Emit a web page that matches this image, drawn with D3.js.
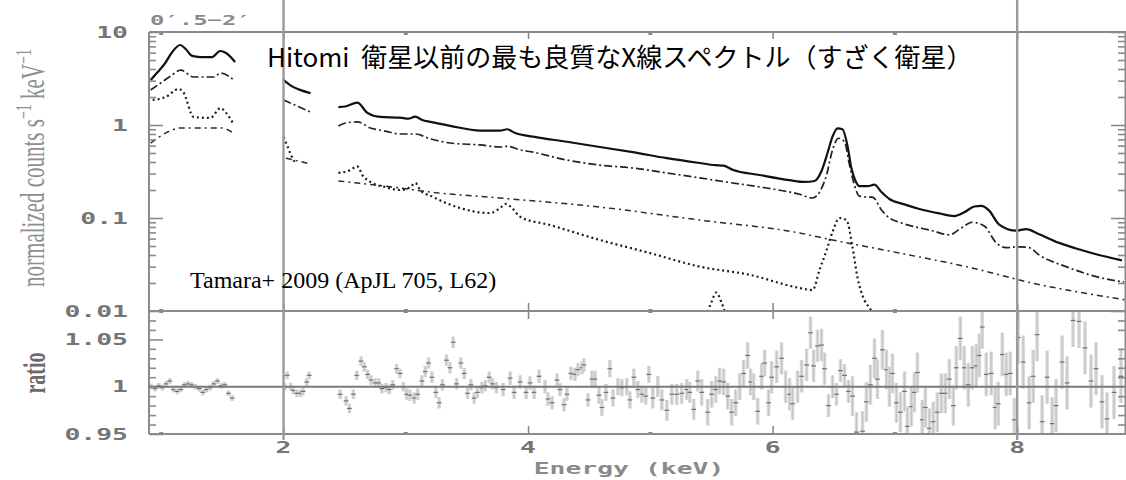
<!DOCTYPE html>
<html>
<head>
<meta charset="utf-8">
<script src="https://cdn.jsdelivr.net/npm/d3@7"></script>
<style>
  html, body { margin: 0; padding: 0; background: #fff; }
  svg { display: block; }
</style>
</head>
<body>
<svg id="chart" width="1126" height="480"></svg>
<script>
// ---- axis ticks and labels ----
const countTickValues = [10, 1, 0.1, 0.01];
const countTickLabels = ["10", "1", "0.1", "0.01"];
const ratioTickValues = [1.05, 1, 0.95];
const ratioTickLabels = ["1.05", "1", "0.95"];
const energyTickValues = [2, 4, 6, 8];
const energyTickLabels = ["2", "4", "6", "8"];
const energyMinorTicks = [1, 3, 5, 7];
const guideEnergies = [2, 8];

// ---- spectral model curves, [energy keV, counts s^-1 keV^-1], split where bands are excluded ----
const modelTotal = [
  [[0.914,3.05],[0.971,3.71],[1.033,4.64],[1.09,6.1],[1.155,7.25],[1.2,6.56],[1.253,5.53],[1.318,5.38],[1.416,5.38],[1.481,6.25],[1.53,5.95],[1.604,4.76]],
  [[2.0,3.05],[2.06,2.65],[2.13,2.4],[2.22,2.2]],
  [[2.449,1.56],[2.506,1.58],[2.604,1.74],[2.686,1.35],[2.792,1.22],[2.955,1.2],[3.02,1.17],[3.078,1.23],[3.135,1.13],[3.2,1.08],[3.363,0.98],[3.608,0.87],[3.771,0.87],[3.829,0.9],[3.894,0.82],[4.041,0.75],[4.318,0.66],[4.588,0.58],[4.857,0.51],[5.135,0.44],[5.404,0.39],[5.53,0.37],[5.6,0.365],[5.673,0.33],[5.894,0.29],[6.139,0.255],[6.261,0.244],[6.343,0.25],[6.4,0.32],[6.449,0.5],[6.49,0.75],[6.531,0.92],[6.571,0.9],[6.612,0.6],[6.645,0.34],[6.678,0.25],[6.71,0.22],[6.776,0.22],[6.833,0.228],[6.89,0.19],[6.955,0.16],[7.078,0.14],[7.2,0.125],[7.363,0.112],[7.486,0.105],[7.567,0.115],[7.649,0.133],[7.706,0.135],[7.771,0.12],[7.853,0.085],[7.992,0.073],[8.073,0.076],[8.18,0.067],[8.343,0.054],[8.531,0.045],[8.669,0.04],[8.857,0.035]]
];
const modelHot = [
  [[0.914,2.38],[0.996,2.83],[1.078,3.36],[1.159,3.9],[1.265,3.28],[1.428,3.28],[1.486,3.62],[1.592,3.05]],
  [[2.0,1.86],[2.11,1.6],[2.22,1.38]],
  [[2.449,0.975],[2.506,1.05],[2.604,1.08],[2.71,0.93],[2.833,0.86],[2.955,0.8],[3.078,0.8],[3.2,0.71],[3.363,0.64],[3.608,0.61],[3.771,0.58],[3.829,0.59],[3.935,0.54],[4.041,0.51],[4.318,0.42],[4.588,0.37],[4.857,0.345],[5.135,0.305],[5.404,0.27],[5.673,0.238],[5.951,0.21],[6.22,0.18],[6.327,0.164],[6.384,0.19],[6.441,0.29],[6.49,0.54],[6.539,0.72],[6.588,0.66],[6.629,0.37],[6.669,0.226],[6.71,0.172],[6.776,0.168],[6.816,0.168],[6.89,0.122],[6.955,0.1],[7.037,0.09],[7.306,0.073],[7.445,0.066],[7.543,0.078],[7.633,0.09],[7.731,0.082],[7.829,0.054],[7.91,0.048],[8.016,0.049],[8.098,0.048],[8.18,0.04],[8.4,0.03],[8.669,0.023],[8.873,0.0205]]
];
const modelCool = [
  [[0.93,1.86],[1.037,2.0],[1.143,2.44],[1.18,2.26],[1.265,1.22],[1.4,1.19],[1.486,1.52],[1.53,1.35],[1.592,1.02]],
  [[2.0,0.74],[2.03,0.6],[2.06,0.48],[2.09,0.4]],
  [[2.449,0.305],[2.547,0.328],[2.604,0.36],[2.645,0.29],[2.71,0.244],[2.833,0.215],[2.955,0.2],[3.037,0.215],[3.078,0.238],[3.118,0.2],[3.224,0.168],[3.444,0.128],[3.69,0.113],[3.771,0.128],[3.82,0.142],[3.869,0.128],[3.935,0.103],[4.18,0.084],[4.588,0.058],[4.996,0.042],[5.404,0.03],[5.812,0.0245],[6.22,0.0177],[6.327,0.0168],[6.384,0.0277],[6.441,0.045],[6.49,0.071],[6.547,0.1],[6.604,0.095],[6.653,0.049],[6.694,0.023],[6.751,0.0131],[6.792,0.0108],[6.84,0.0088]]
];
const modelContinuum = [
  [[0.914,0.64],[1.053,0.84],[1.159,0.93],[1.322,0.93],[1.486,0.93],[1.592,0.82]],
  [[2.02,0.44],[2.12,0.41],[2.22,0.38]],
  [[2.449,0.25],[2.955,0.21],[3.2,0.19],[3.771,0.164],[4.588,0.131],[5.404,0.095],[6.22,0.069],[6.49,0.058],[7.037,0.042],[7.584,0.03],[8.122,0.02],[8.882,0.0132]]
];
const lineCr = [[5.47,0.0098],[5.5,0.0125],[5.54,0.0158],[5.58,0.0125],[5.61,0.0098]];

// ---- data / model ratio: [energy keV, ratio, 1-sigma error] ----
const ratioPoints = [
  [0.92,1.000,0.003],[0.95,0.998,0.003],[0.98,1.001,0.003],[1.01,0.999,0.003],[1.04,1.003,0.003],[1.07,1.006,0.003],
  [1.10,0.997,0.003],[1.13,0.995,0.003],[1.16,0.997,0.003],[1.19,1.002,0.003],[1.22,1.003,0.003],[1.25,1.002,0.003],
  [1.28,1.000,0.003],[1.31,0.998,0.003],[1.34,0.994,0.003],[1.37,0.997,0.003],[1.40,0.999,0.003],[1.43,1.003,0.003],
  [1.46,1.006,0.003],[1.49,1.001,0.003],[1.52,1.002,0.003],[1.55,0.993,0.003],[1.58,0.988,0.003],
  [2.01,1.000,0.004],[2.03,1.012,0.004],[2.06,1.000,0.004],[2.08,0.996,0.004],[2.11,0.993,0.004],[2.14,0.993,0.004],
  [2.16,0.995,0.004],[2.19,1.005,0.004],[2.21,1.012,0.004],
  [2.463,0.992,0.005],[2.512,0.985,0.005],[2.539,0.977,0.005],[2.571,0.992,0.005],[2.599,1.012,0.005],[2.634,1.027,0.005],
  [2.661,1.021,0.005],[2.688,1.013,0.005],[2.716,1.007,0.005],[2.751,1.004,0.005],[2.778,1.004,0.005],[2.805,0.998,0.005],
  [2.838,0.999,0.005],[2.865,0.997,0.005],[2.893,1.002,0.005],[2.925,1.019,0.005],[2.953,1.014,0.005],[2.980,1.000,0.005],
  [3.007,0.992,0.006],[3.034,0.991,0.006],[3.069,0.988,0.006],[3.097,0.992,0.006],[3.132,1.006,0.006],[3.159,1.016,0.006],
  [3.186,1.025,0.006],[3.214,1.010,0.006],[3.246,0.994,0.006],[3.273,0.983,0.006],[3.300,1.002,0.006],[3.333,1.028,0.006],
  [3.361,1.020,0.006],[3.388,1.047,0.006],[3.415,1.003,0.006],[3.450,1.025,0.006],[3.478,1.014,0.006],[3.505,0.993,0.006],
  [3.532,1.002,0.006],[3.559,0.988,0.006],[3.586,0.994,0.006],[3.622,0.999,0.006],[3.649,1.001,0.006],[3.682,1.010,0.006],
  [3.709,1.003,0.006],[3.741,0.999,0.006],
  [3.796,0.997,0.007],[3.853,1.009,0.007],[3.886,0.994,0.007],[3.935,1.005,0.007],[3.984,0.994,0.007],[4.016,1.004,0.007],
  [4.049,0.994,0.007],[4.090,1.011,0.007],[4.139,1.000,0.007],[4.163,0.987,0.007],[4.196,0.983,0.007],[4.237,1.007,0.007],
  [4.261,0.997,0.007],[4.294,0.981,0.007],[4.318,0.992,0.007],[4.351,1.014,0.007],[4.384,1.013,0.007],[4.408,1.018,0.007],
  [4.441,1.020,0.007],[4.457,1.023,0.007],[4.490,0.986,0.007],
  [4.522,1.008,0.009],[4.547,1.008,0.009],[4.580,0.991,0.009],[4.604,0.978,0.009],[4.637,0.994,0.009],[4.669,1.019,0.009],
  [4.694,0.988,0.009],[4.735,1.000,0.009],[4.767,0.999,0.009],[4.808,1.000,0.009],[4.833,0.986,0.009],[4.865,1.010,0.009],
  [4.898,0.997,0.009],[4.931,0.992,0.009],[4.963,0.990,0.009],[4.988,1.013,0.009],
  [5.020,0.988,0.011],[5.061,1.000,0.011],[5.094,0.986,0.011],[5.135,0.975,0.011],[5.176,0.992,0.011],[5.216,0.992,0.011],
  [5.257,0.993,0.011],[5.298,0.997,0.011],[5.322,0.994,0.011],[5.355,0.976,0.011],[5.388,1.006,0.011],
  [5.420,0.994,0.014],[5.469,0.973,0.014],[5.502,0.992,0.014],[5.535,0.997,0.014],[5.567,1.006,0.014],[5.600,1.005,0.014],
  [5.633,0.990,0.014],[5.665,0.973,0.014],[5.698,0.983,0.014],[5.731,1.000,0.014],[5.763,1.014,0.014],[5.796,1.033,0.014],
  [5.820,1.005,0.014],[5.845,1.000,0.014],[5.878,0.974,0.014],[5.910,1.011,0.014],[5.935,1.025,0.014],[5.967,0.983,0.014],
  [5.992,1.010,0.017],[6.033,1.021,0.017],[6.073,1.030,0.017],[6.106,1.000,0.017],[6.139,0.992,0.017],[6.163,0.982,0.017],
  [6.204,1.000,0.017],[6.237,1.011,0.017],[6.278,1.023,0.017],[6.310,1.057,0.017],[6.335,1.022,0.017],[6.367,1.043,0.017],
  [6.400,1.044,0.017],[6.424,1.019,0.017],
  [6.457,0.980,0.012],[6.490,1.000,0.012],[6.522,0.992,0.012],[6.555,1.017,0.012],[6.588,1.012,0.012],[6.620,0.995,0.012],
  [6.653,0.990,0.021],[6.686,0.952,0.021],[6.735,0.953,0.021],[6.767,0.984,0.021],[6.800,1.002,0.021],[6.833,1.030,0.021],
  [6.857,1.008,0.021],[6.898,1.039,0.021],[6.931,1.018,0.021],[6.955,1.000,0.021],[6.980,1.014,0.021],[7.012,0.983,0.021],
  [7.045,0.973,0.021],[7.078,0.995,0.021],[7.102,0.958,0.021],[7.135,0.979,0.021],[7.159,0.994,0.021],[7.184,1.015,0.021],
  [7.224,0.965,0.021],[7.249,0.978,0.021],[7.282,0.956,0.021],[7.314,0.963,0.021],[7.347,0.973,0.021],[7.380,0.993,0.021],
  [7.412,0.993,0.021],[7.445,1.008,0.021],[7.478,0.980,0.021],
  [7.502,1.020,0.023],[7.535,1.051,0.023],[7.567,1.020,0.023],[7.600,1.002,0.023],[7.633,1.020,0.023],[7.665,1.022,0.023],
  [7.690,1.033,0.023],[7.714,1.063,0.023],[7.747,1.013,0.023],[7.788,1.014,0.023],[7.820,0.978,0.023],[7.845,0.982,0.023],
  [7.878,1.034,0.023],[7.910,1.013,0.023],[7.943,1.014,0.023],[7.976,0.965,0.023],
  [8.008,1.052,0.028],[8.049,1.026,0.028],[8.098,0.983,0.028],[8.131,1.011,0.028],[8.163,1.055,0.028],[8.204,0.963,0.028],
  [8.245,1.010,0.028],[8.286,0.961,0.028],[8.318,0.980,0.028],[8.367,1.026,0.028],[8.408,1.004,0.028],[8.457,1.070,0.028],
  [8.506,1.069,0.028],[8.555,1.041,0.028],[8.604,1.006,0.028],[8.645,1.019,0.028],[8.694,0.984,0.028],[8.735,0.966,0.028],
  [8.792,0.994,0.028],[8.849,1.011,0.028]
];

// ---- layout ----
const frameLeft = 149, frameRight = 1126;
const countTop = 32, countBottom = 311, ratioBottom = 434;
const frameColor = "#8a8a8a";
const labelColor = "#757575";
const stretch = 1.65; // horizontally widened labels of the spectrum plot

const svg = d3.select("#chart");

const x = d3.scaleLinear().domain([0.9, 8.89]).range([frameLeft, frameRight]);
const yCount = d3.scaleLog().domain([0.01, 10]).range([countBottom, countTop]);
const yRatio = d3.scaleLinear().domain([0.95, 1.08]).range([ratioBottom, countBottom]);

const defs = svg.append("defs");
defs.append("clipPath").attr("id", "clip-count")
  .append("rect").attr("x", frameLeft).attr("y", countTop)
  .attr("width", frameRight - frameLeft).attr("height", countBottom - countTop);
defs.append("clipPath").attr("id", "clip-ratio")
  .append("rect").attr("x", frameLeft).attr("y", countBottom)
  .attr("width", frameRight - frameLeft).attr("height", ratioBottom - countBottom);

// ---- upper panel: model curves ----
const curveLine = d3.line()
  .x(d => x(d[0]))
  .y(d => yCount(d[1]))
  .curve(d3.curveMonotoneX);

const countLayer = svg.append("g").attr("clip-path", "url(#clip-count)");

function drawModel(segments, style) {
  countLayer.append("g")
    .selectAll("path")
    .data(segments)
    .join("path")
    .attr("d", curveLine)
    .attr("fill", "none")
    .attr("stroke", style.color)
    .attr("stroke-width", style.width)
    .attr("stroke-dasharray", style.dash)
    .attr("stroke-linejoin", "round");
}
drawModel(modelContinuum, { color: "#2a2a2a", width: 1.5, dash: "6,4,2,4" });
drawModel(modelCool,      { color: "#1e1e1e", width: 2.2, dash: "2,3" });
drawModel([lineCr],       { color: "#1e1e1e", width: 2.2, dash: "2,3" });
drawModel(modelHot,       { color: "#222",    width: 1.7, dash: "8,3,2,3" });
drawModel(modelTotal,     { color: "#111",    width: 2.2, dash: null });

// ---- lower panel: ratio points with error bars ----
const ratioLayer = svg.append("g").attr("clip-path", "url(#clip-ratio)");
const pts = ratioLayer.selectAll("g.pt").data(ratioPoints).join("g").attr("class", "pt");
pts.append("line")
  .attr("x1", d => x(d[0])).attr("x2", d => x(d[0]))
  .attr("y1", d => yRatio(d[1] - d[2])).attr("y2", d => yRatio(d[1] + d[2]))
  .attr("stroke", "#d9d9d9").attr("stroke-width", 3.6);
pts.append("line")
  .attr("x1", d => x(d[0])).attr("x2", d => x(d[0]))
  .attr("y1", d => yRatio(d[1] - d[2])).attr("y2", d => yRatio(d[1] + d[2]))
  .attr("stroke", "#bcbcbc").attr("stroke-width", 0.8);
pts.append("line")
  .attr("x1", d => x(d[0]) - 2.4).attr("x2", d => x(d[0]) + 2.4)
  .attr("y1", d => yRatio(d[1])).attr("y2", d => yRatio(d[1]))
  .attr("stroke", "#707070").attr("stroke-width", 1.2);

// ---- axes: ticks ----
function styleAxis(g) {
  g.select(".domain").remove();
  g.selectAll(".tick line").attr("stroke", frameColor).attr("stroke-width", 1.6);
}
const countMinor = [];
[0.01, 0.1, 1].forEach(dec => { for (let m = 2; m <= 9; m++) countMinor.push(m * dec); });
const ratioMinor = d3.range(0.96, 1.075, 0.01).filter(v => Math.abs(v - 1) > 1e-6 && Math.abs(v - 1.05) > 1e-6);

svg.append("g").attr("transform", `translate(${frameLeft},0)`)
  .call(d3.axisRight(yCount).tickValues(countTickValues).tickSize(14).tickFormat("")).call(styleAxis);
svg.append("g").attr("transform", `translate(${frameLeft},0)`)
  .call(d3.axisRight(yCount).tickValues(countMinor).tickSize(7).tickFormat("")).call(styleAxis);
svg.append("g").attr("transform", `translate(${frameRight - 1},0)`)
  .call(d3.axisLeft(yCount).tickValues(countTickValues).tickSize(14).tickFormat("")).call(styleAxis);
svg.append("g").attr("transform", `translate(${frameRight - 1},0)`)
  .call(d3.axisLeft(yCount).tickValues(countMinor).tickSize(7).tickFormat("")).call(styleAxis);

svg.append("g").attr("transform", `translate(${frameLeft},0)`)
  .call(d3.axisRight(yRatio).tickValues([1.05, 0.95]).tickSize(14).tickFormat("")).call(styleAxis);
svg.append("g").attr("transform", `translate(${frameLeft},0)`)
  .call(d3.axisRight(yRatio).tickValues(ratioMinor).tickSize(7).tickFormat("")).call(styleAxis);
svg.append("g").attr("transform", `translate(${frameRight - 1},0)`)
  .call(d3.axisLeft(yRatio).tickValues(ratioMinor).tickSize(7).tickFormat("")).call(styleAxis);

svg.append("g").attr("transform", `translate(0,${countTop})`)
  .call(d3.axisBottom(x).tickValues(energyTickValues).tickSize(7).tickFormat("")).call(styleAxis);
svg.append("g").attr("transform", `translate(0,${countBottom})`)
  .call(d3.axisBottom(x).tickValues(energyTickValues).tickSize(8).tickFormat("")).call(styleAxis);
svg.append("g").attr("transform", `translate(0,${countBottom})`)
  .call(d3.axisTop(x).tickValues(energyTickValues).tickSize(8).tickFormat("")).call(styleAxis);
svg.append("g").attr("transform", `translate(0,${ratioBottom})`)
  .call(d3.axisTop(x).tickValues(energyTickValues).tickSize(8).tickFormat("")).call(styleAxis);

// small square marks at the odd keV positions
[countTop, countBottom, ratioBottom].forEach((yy, i) => {
  svg.append("g").selectAll("rect").data(energyMinorTicks).join("rect")
    .attr("x", d => x(d) - 2).attr("y", i === 0 ? yy : yy - 2)
    .attr("width", 4).attr("height", i === 1 ? 4 : 3)
    .attr("fill", frameColor);
});

// ---- frame ----
const frame = svg.append("g").attr("stroke", frameColor).attr("stroke-width", 2).attr("fill", "none");
frame.append("line").attr("x1", frameLeft).attr("x2", frameRight).attr("y1", countTop).attr("y2", countTop);
frame.append("line").attr("x1", frameLeft).attr("x2", frameRight).attr("y1", countBottom).attr("y2", countBottom);
frame.append("line").attr("x1", frameLeft).attr("x2", frameRight).attr("y1", ratioBottom).attr("y2", ratioBottom);
frame.append("line").attr("x1", frameLeft).attr("x2", frameLeft).attr("y1", countTop).attr("y2", ratioBottom);
frame.append("line").attr("x1", frameRight - 0.5).attr("x2", frameRight - 0.5).attr("y1", countTop).attr("y2", ratioBottom);
// unity line of the ratio panel
svg.append("line")
  .attr("x1", frameLeft).attr("x2", frameRight)
  .attr("y1", yRatio(1)).attr("y2", yRatio(1))
  .attr("stroke", "#7a7a7a").attr("stroke-width", 2);

// ---- tick labels ----
function stretchedLabel(tx, ty, text, anchor, size, color) {
  return svg.append("text")
    .attr("transform", `translate(${tx},${ty}) scale(${stretch},1)`)
    .attr("text-anchor", anchor)
    .attr("font-family", "'DejaVu Sans Mono', 'Liberation Mono', monospace")
    .attr("font-weight", "bold")
    .attr("font-size", size)
    .attr("fill", color || labelColor)
    .text(text);
}
countTickValues.forEach((v, i) => stretchedLabel(128, yCount(v) + 5.5, countTickLabels[i], "end", 16));
ratioTickValues.forEach((v, i) => stretchedLabel(128, yRatio(v) + 5.5, ratioTickLabels[i], "end", 16));
energyTickValues.forEach((v, i) => stretchedLabel(x(v), 453, energyTickLabels[i], "middle", 16));
stretchedLabel(629, 474, "Energy (keV)", "middle", 16, "#8a8a8a");
stretchedLabel(150, 25, "0\u2032.5\u22122\u2032", "start", 14.5, "#8a8a8a");

// ---- axis titles ----
const yTitle = svg.append("text")
  .attr("transform", `translate(44,168) scale(1.6,1) rotate(-90)`)
  .attr("text-anchor", "middle")
  .attr("font-family", "'Liberation Serif', 'DejaVu Serif', serif")
  .attr("font-size", 21)
  .attr("fill", "#8f8f8f");
yTitle.append("tspan").text("normalized counts s");
yTitle.append("tspan").attr("font-size", 14).attr("dy", -8).text("\u22121");
yTitle.append("tspan").attr("dy", 8).text(" keV");
yTitle.append("tspan").attr("font-size", 14).attr("dy", -8).text("\u22121");

svg.append("text")
  .attr("transform", `translate(45,373) scale(1.6,1) rotate(-90)`)
  .attr("text-anchor", "middle")
  .attr("font-family", "'Liberation Serif', 'DejaVu Serif', serif")
  .attr("font-weight", "bold")
  .attr("font-size", 20)
  .attr("fill", "#6a6a6a")
  .text("ratio");

// ---- vertical guides at 2 and 8 keV ----
svg.append("g").selectAll("line").data(guideEnergies).join("line")
  .attr("x1", d => x(d)).attr("x2", d => x(d))
  .attr("y1", 0).attr("y2", 440)
  .attr("stroke", "#9a9a9a").attr("stroke-width", 2.4);

// ---- annotations ----
const title = svg.append("text")
  .attr("x", 267).attr("y", 67)
  .attr("font-family", "'Noto Sans CJK JP', 'Noto Sans', sans-serif")
  .attr("font-size", 26)
  .attr("fill", "#000");
title.append("tspan").text("Hitomi ");
title.append("tspan").attr("dx", 6).text("衛星以前の最も良質なX線スペクトル（すざく衛星）");

svg.append("text")
  .attr("x", 190).attr("y", 288)
  .attr("font-family", "'Liberation Serif', 'Times New Roman', serif")
  .attr("font-size", 24)
  .attr("fill", "#000")
  .text("Tamara+ 2009 (ApJL 705, L62)");
</script>
</body>
</html>
